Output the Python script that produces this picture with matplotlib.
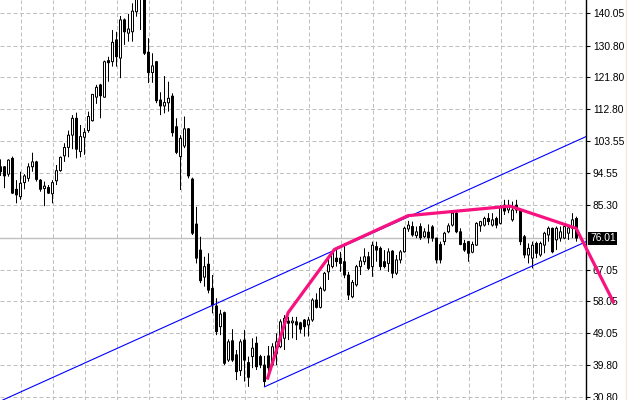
import numpy as np
import matplotlib.pyplot as plt
from matplotlib.lines import Line2D

# daily candles (oldest first)
opens = [96.3, 96.3, 94.2, 98.7, 89.9, 87.8, 91.8, 93.0, 96.3, 97.7,
         92.5, 90.1, 90.4, 88.6, 92.3, 95.2, 99.4, 101.8, 105.3, 110.1,
         100.6, 104.7, 106.6, 109.4, 116.1, 119.6, 116.1, 126.5, 126.2, 132.4,
         127.2, 138.1, 134.3, 134.7, 140.4, 144.3, 145.5, 128.9, 123.1, 126.2,
         115.3, 113.6, 114.5, 116.4, 107.7, 99.2, 102.2, 107.1, 92.8, 80.0,
         72.6, 64.9, 68.6, 61.7, 56.7, 50.8, 54.8, 41.3, 46.8, 42.8,
         38.3, 47.0, 40.6, 42.3, 46.1, 42.3, 39.9, 42.5, 39.9, 43.2,
         45.1, 47.5, 52.4, 51.9, 52.2, 51.9, 52.7, 51.3, 52.7, 58.4,
         56.3, 61.2, 66.4, 67.9, 70.3, 70.3, 69.3, 65.5, 59.3, 62.7,
         67.9, 69.3, 70.7, 67.9, 73.6, 73.1, 69.3, 68.8, 72.3, 66.0,
         69.8, 72.1, 78.6, 79.3, 76.7, 79.3, 76.4, 77.7, 79.2, 76.0,
         74.2, 75.0, 77.8, 79.7, 83.1, 77.8, 74.5, 75.0, 72.0, 74.0,
         79.5, 79.7, 81.6, 79.7, 81.6, 80.2, 85.4, 84.0, 81.2, 85.4,
         84.0, 76.4, 71.2, 70.3, 74.5, 71.2, 74.0, 76.9, 78.8, 75.5,
         76.0, 76.0, 77.4, 78.8, 81.6]
highs = [98.4, 96.5, 98.4, 99.2, 92.5, 94.9, 94.2, 97.3, 100.3, 98.0,
         92.8, 92.1, 91.1, 92.5, 96.8, 99.2, 103.0, 106.6, 111.0, 111.7,
         108.2, 107.3, 112.0, 117.0, 119.6, 119.9, 126.5, 127.6, 135.2, 134.7,
         139.2, 138.5, 139.8, 142.8, 145.5, 147.2, 146.6, 132.9, 128.6, 126.4,
         117.5, 122.1, 120.5, 117.2, 110.1, 105.3, 110.6, 107.3, 93.2, 84.9,
         76.4, 70.7, 71.7, 65.5, 58.9, 55.6, 55.1, 47.2, 50.1, 44.2,
         47.2, 49.9, 42.3, 47.5, 48.0, 42.8, 42.5, 45.3, 46.1, 48.9,
         52.9, 54.1, 53.6, 53.6, 53.6, 52.2, 53.0, 53.6, 58.9, 60.3,
         62.2, 66.4, 70.7, 72.6, 72.6, 72.1, 74.5, 66.4, 64.1, 68.4,
         70.7, 73.1, 72.1, 75.0, 75.0, 73.6, 72.6, 73.1, 72.6, 71.2,
         72.6, 79.3, 80.9, 80.7, 79.3, 80.2, 78.8, 79.9, 79.7, 76.1,
         75.0, 77.8, 80.2, 83.5, 84.0, 78.8, 75.5, 75.2, 75.0, 80.5,
         80.9, 82.1, 83.1, 83.1, 82.1, 85.4, 86.9, 86.9, 86.4, 86.9,
         84.5, 76.9, 74.5, 75.0, 75.0, 75.0, 77.8, 79.3, 79.0, 79.3,
         79.3, 79.7, 79.5, 83.1, 82.1]
lows = [93.7, 90.2, 93.5, 88.6, 85.9, 86.9, 89.9, 92.1, 94.9, 92.1,
        89.2, 85.1, 88.6, 85.9, 91.1, 94.9, 97.7, 99.0, 101.3, 98.7,
        99.0, 99.7, 106.0, 109.2, 114.2, 110.1, 115.9, 120.5, 124.8, 124.8,
        121.5, 131.0, 131.9, 131.9, 139.0, 135.2, 128.1, 120.1, 120.2, 114.4,
        111.0, 111.5, 112.0, 104.9, 99.9, 89.7, 101.6, 93.0, 76.9, 68.8,
        63.2, 62.2, 60.3, 54.6, 48.4, 48.4, 39.9, 40.8, 40.8, 35.6,
        36.8, 35.2, 33.7, 39.0, 38.5, 39.0, 33.7, 37.9, 39.4, 39.9,
        44.7, 44.2, 47.0, 47.5, 47.0, 48.9, 48.0, 48.0, 52.2, 56.0,
        56.0, 60.8, 64.1, 67.4, 67.9, 66.4, 64.6, 58.4, 58.9, 62.2,
        65.5, 68.4, 66.9, 65.0, 69.3, 66.9, 67.4, 66.4, 64.6, 65.5,
        68.8, 71.9, 77.8, 76.4, 76.0, 75.5, 76.0, 74.5, 75.0, 68.8,
        68.8, 74.0, 77.4, 79.3, 77.4, 74.0, 72.1, 69.3, 71.7, 73.8,
        77.8, 79.3, 79.7, 79.3, 78.8, 79.9, 82.6, 83.1, 80.7, 83.1,
        74.0, 70.3, 68.8, 67.4, 70.3, 70.7, 71.7, 75.0, 71.7, 72.6,
        75.0, 75.7, 75.5, 76.0, 75.0]
closes = [94.9, 93.7, 98.2, 88.8, 88.3, 91.6, 93.7, 96.3, 97.7, 92.7,
          89.9, 90.8, 88.8, 91.8, 95.2, 99.0, 101.8, 105.3, 110.1, 101.3,
          104.9, 106.1, 110.6, 116.9, 118.9, 116.5, 126.2, 125.9, 131.7, 127.6,
          138.1, 134.7, 135.5, 140.6, 144.6, 146.0, 128.6, 123.1, 125.0, 115.1,
          113.6, 114.6, 115.8, 106.0, 100.4, 104.4, 107.1, 93.7, 77.4, 70.3,
          63.9, 67.9, 61.2, 57.0, 49.4, 54.4, 40.4, 46.5, 41.3, 38.0,
          46.5, 41.3, 36.4, 44.7, 39.4, 39.9, 35.2, 39.1, 45.1, 46.5,
          52.2, 53.2, 51.8, 52.4, 51.3, 50.1, 50.8, 52.7, 58.4, 56.3,
          61.7, 66.0, 68.4, 72.1, 69.3, 68.8, 65.5, 59.8, 63.4, 67.9,
          69.5, 70.7, 67.4, 74.0, 72.6, 67.9, 67.9, 72.1, 66.0, 69.8,
          72.1, 78.8, 79.7, 76.9, 77.8, 76.1, 77.8, 76.1, 76.0, 69.8,
          69.8, 77.4, 79.5, 83.1, 77.8, 74.2, 72.6, 71.7, 74.2, 80.2,
          80.7, 81.6, 80.7, 81.2, 79.7, 84.9, 83.7, 85.1, 84.0, 84.0,
          75.0, 71.2, 73.1, 74.0, 71.7, 74.5, 77.4, 78.8, 72.1, 78.8,
          77.8, 79.3, 78.9, 81.2, 76.01]

last_price = 76.01
price_ticks = [140.05, 130.80, 121.80, 112.80, 103.55, 94.55, 85.30,
               67.05, 58.05, 49.05, 39.80, 30.80]

# hand drawn objects (bar index, price)
zigzag_x = [66.8, 71.9, 83.5, 101.9, 127.4, 143.9, 153.2]
zigzag_y = [36.2, 54.8, 72.8, 82.4, 85.1, 78.8, 57.9]
upper_x = [49.9, 146.4]
upper_y = [55.3, 104.9]
lower_x = [66.0, 146.4]
lower_y = [33.7, 75.0]

n = len(closes)
idx = np.arange(n)
o = np.array(opens)
c = np.array(closes)

fig = plt.figure(figsize=(6.4, 4.0), dpi=100)
ax = fig.add_axes([0, 0, 586 / 640, 1])
ax.set_xlim(-0.125, 146.375)  # 4 px per bar
ax.set_ylim(29.95, 143.75)

grid_kw = dict(color='#c0c0c0', lw=0.72, dashes=(4, 2.5), zorder=0)
for gx in range(5, n, 8):
    ax.axvline(gx, **grid_kw)
for gy in price_ticks:
    ax.axhline(gy, **grid_kw)
ax.axhline(last_price, color='#c0c0c0', lw=1.0, zorder=0.5)

# candles: 1px wick, 3px body
ax.vlines(idx, lows, highs, color='black', lw=0.72, zorder=2, snap=False)
up = c >= o
ax.bar(idx, np.maximum(np.abs(c - o), 0.05), bottom=np.minimum(o, c), width=0.5,
       color=np.where(up, 'white', 'black'), edgecolor='black', linewidth=0.72,
       zorder=3, snap=False)

# channel + zigzag
ax.axline((upper_x[0], upper_y[0]), (upper_x[1], upper_y[1]), color='#0000ff', lw=0.8, zorder=4)
ax.plot(lower_x, lower_y, color='#0000ff', lw=0.8, zorder=4)
ax.plot(zigzag_x, zigzag_y, color='#f7127f', lw=2.3, zorder=6, clip_on=False,
        solid_joinstyle='round')

# price axis on the right
for s in ['top', 'left', 'bottom']:
    ax.spines[s].set_visible(False)
ax.spines['right'].set_linewidth(1.0)
ax.set_xticks([])
ax.yaxis.tick_right()
ax.set_yticks(price_ticks)
ax.set_yticklabels(['%.2f' % t for t in price_ticks])
ax.tick_params(axis='y', length=3, width=0.8, pad=2, labelsize=7.4)
for lab in ax.get_yticklabels():
    lab.set_family('Liberation Sans')

ax.annotate('%.2f' % last_price, xy=(1.0, last_price), xycoords=('axes fraction', 'data'),
            xytext=(4, 0), textcoords='offset pixels', va='center', ha='left',
            fontsize=7.4, family='Liberation Sans', color='white', zorder=5,
            bbox=dict(boxstyle='square,pad=0.15', fc='black', ec='none'))

fig.add_artist(Line2D([626 / 640, 626 / 640], [0, 1], color='#efe9d6', lw=0.8))

fig.savefig('out.png', dpi=100)
